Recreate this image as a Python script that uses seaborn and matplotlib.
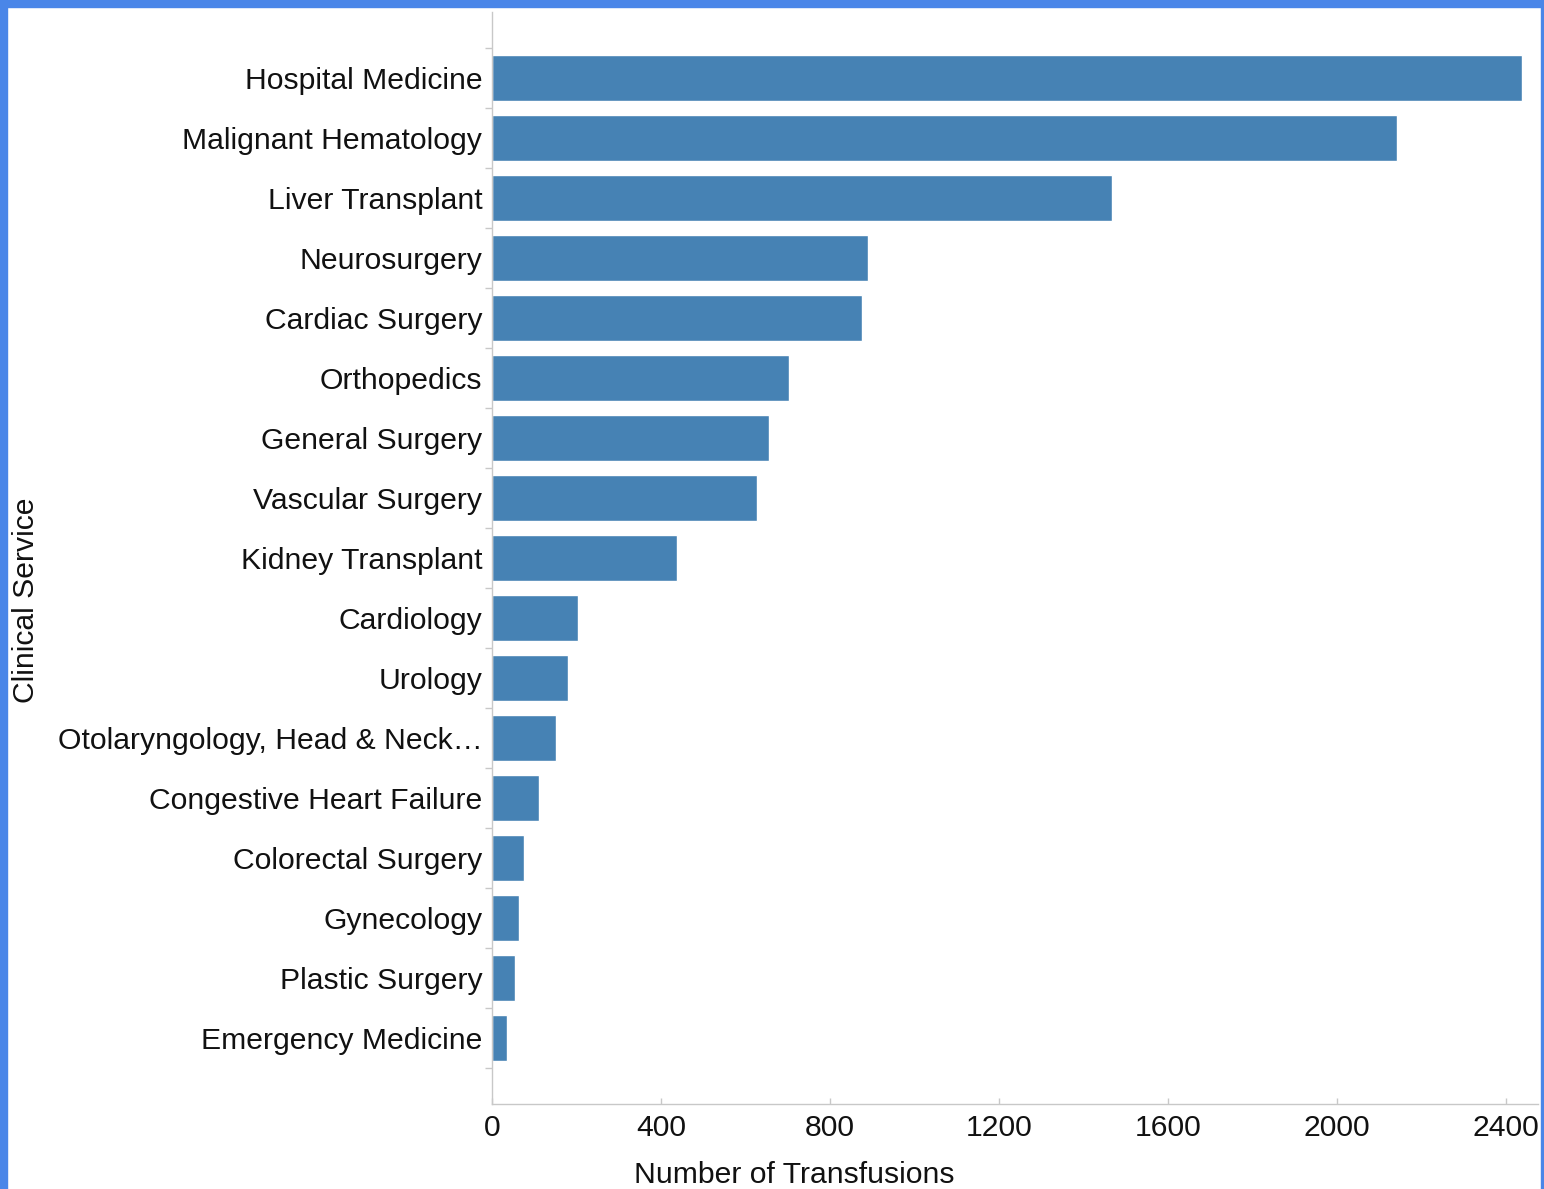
import matplotlib
matplotlib.use("Agg")
import matplotlib.pyplot as plt
import seaborn as sns
import pandas as pd
from matplotlib.patches import Rectangle
from matplotlib.ticker import FixedLocator

services = [
    "Hospital Medicine", "Malignant Hematology", "Liver Transplant", "Neurosurgery",
    "Cardiac Surgery", "Orthopedics", "General Surgery", "Vascular Surgery",
    "Kidney Transplant", "Cardiology", "Urology", "Otolaryngology, Head & Neck…",
    "Congestive Heart Failure", "Colorectal Surgery", "Gynecology", "Plastic Surgery",
    "Emergency Medicine",
]
transfusions = [2438, 2142, 1467, 890, 876, 703, 656, 627, 438, 204, 180, 151, 111, 76, 64, 54, 36]
x_ticks = [0, 400, 800, 1200, 1600, 2000, 2400]

df = pd.DataFrame({"Clinical Service": services, "Number of Transfusions": transfusions})

sns.set_theme(style="white")
plt.rcParams['font.family'] = ['Liberation Sans', 'DejaVu Sans']

FS = 21.7
fig = plt.figure(figsize=(15.44, 11.89), dpi=100)
ax = fig.add_axes([492/1544, 1 - 1104/1189, (1538-492)/1544, (1104-12)/1189])

sns.barplot(data=df, y="Clinical Service", x="Number of Transfusions",
            orient="h", color="#4682B4", width=0.78, saturation=1, ax=ax)

ax.set_xlim(0, 2476)
ax.set_ylim(len(services) - 1 + 1.1, -1.1)
ax.set_xticks(x_ticks)
ax.set_xticklabels([str(t) for t in x_ticks])
ax.yaxis.set_minor_locator(FixedLocator([i - 0.5 for i in range(len(services) + 1)]))

grey = "#c8c8c8"
for s in ["top", "right"]:
    ax.spines[s].set_visible(False)
for s in ["left", "bottom"]:
    ax.spines[s].set_color(grey)
    ax.spines[s].set_linewidth(1)

ax.tick_params(axis="y", which="major", length=0, pad=7, labelsize=FS, labelcolor="#111111")
ax.tick_params(axis="y", which="minor", left=True, length=5, width=1, color=grey)
ax.tick_params(axis="x", which="major", bottom=True, direction="in", length=4, width=1,
               color=grey, pad=7, labelsize=FS, labelcolor="#111111")

ax.set_xlabel("Number of Transfusions", fontsize=FS, color="#111111")
ax.xaxis.set_label_coords(0.289, -0.052)
ax.set_ylabel("Clinical Service", fontsize=FS, color="#111111")
ax.yaxis.set_label_coords(-0.432, 0.4615)

border = "#4A86E8"
fig.patches.append(Rectangle((0, 1 - 7/1189), 1, 7/1189, transform=fig.transFigure,
                             color=border, zorder=10))
fig.patches.append(Rectangle((0, 0), 7/1544, 1, transform=fig.transFigure,
                             color=border, zorder=10))
fig.patches.append(Rectangle((1 - 3/1544, 0), 3/1544, 1, transform=fig.transFigure,
                             color=border, zorder=10))

fig.savefig("out.png", dpi=100, facecolor="white")
